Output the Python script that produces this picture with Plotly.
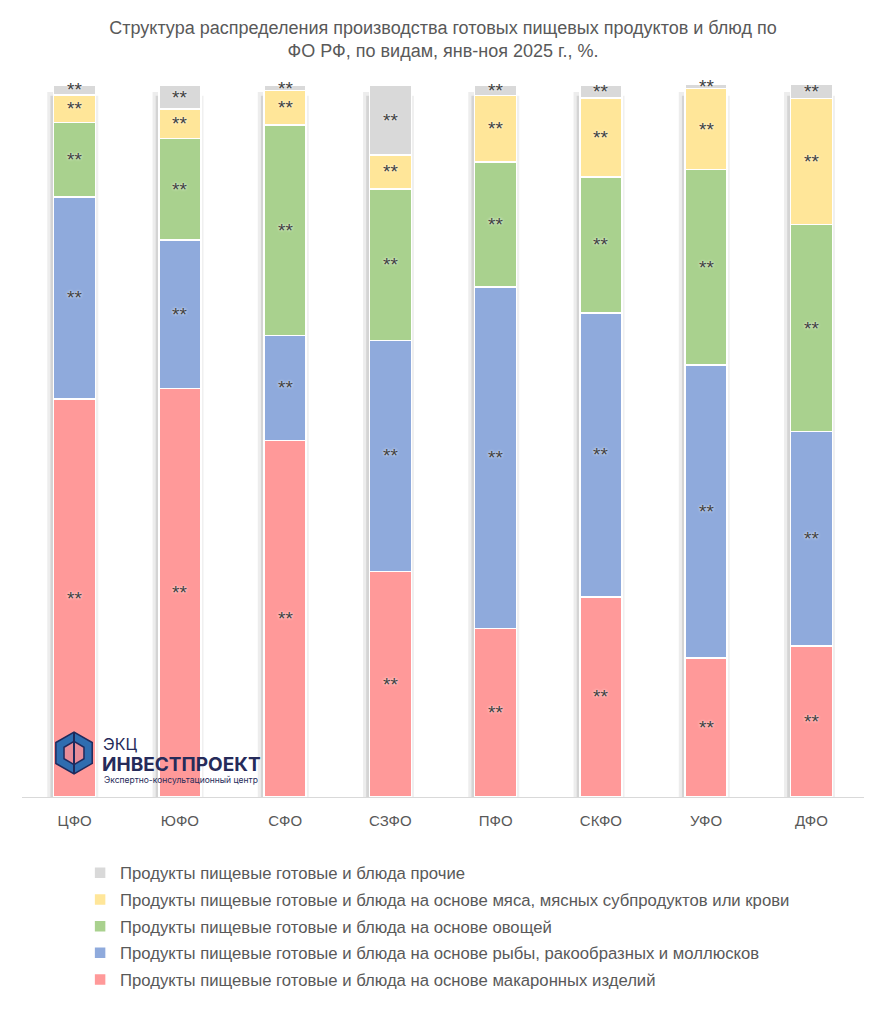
import math
import plotly.graph_objects as go

# Federal districts and shares (%) by product type
districts = ["ЦФО", "ЮФО", "СФО", "СЗФО", "ПФО", "СКФО", "УФО", "ДФО"]

pasta = [55.9, 57.4, 50.1, 31.7, 23.7, 28.1, 19.5, 21.2]
fish = [28.4, 20.8, 14.7, 32.4, 47.9, 39.9, 41.2, 30.1]
vegetables = [10.4, 14.3, 29.6, 21.3, 17.6, 19.1, 27.4, 29.1]
meat = [3.9, 4.1, 4.8, 4.8, 9.3, 11.1, 11.4, 17.7]
other = [1.4, 3.4, 0.7, 9.7, 1.5, 1.8, 0.6, 2.0]

series_names = [
    "Продукты пищевые готовые и блюда на основе макаронных изделий",
    "Продукты пищевые готовые и блюда на основе рыбы, ракообразных и моллюсков",
    "Продукты пищевые готовые и блюда на основе овощей",
    "Продукты пищевые готовые и блюда на основе мяса, мясных субпродуктов или крови",
    "Продукты пищевые готовые и блюда прочие",
]
series_values = [pasta, fish, vegetables, meat, other]
series_colors = ["#ff9999", "#8faadc", "#a9d18e", "#ffe699", "#d9d9d9"]
label_text = "**"  # values are hidden in the source chart

GREY_TEXT = "#595959"

# page body has an 8px margin, so the figure is 8px smaller than the window
W, H = 879, 1016
ML, MR, MT, MB = 14, 23, 77, 227
PW, PH = W - ML - MR, H - MT - MB

fig = go.Figure()
n = len(series_names)
for i, (name, vals, col) in enumerate(zip(series_names, series_values, series_colors)):
    fig.add_trace(go.Bar(
        x=districts, y=vals, name=name,
        legendgroup=f"g{n - i}", legendrank=n - i,
        marker=dict(color=col, line=dict(color="white", width=1.5)),
        hoverinfo="x+y+name",
    ))

# "**" labels in the middle of each segment
base = [0.0] * len(districts)
for vals in series_values:
    for j, v in enumerate(vals):
        fig.add_annotation(
            x=districts[j], y=base[j] + v / 2, xref="x", yref="y",
            text=label_text, showarrow=False, yanchor="middle",
            font=dict(color="#404040", size=19, family="Liberation Sans",
                      shadow="0px 0px 3px white"),
        )
        base[j] += v

fig.update_layout(
    barmode="stack",
    bargap=0.6,
    width=W, height=H,
    paper_bgcolor="white", plot_bgcolor="white",
    margin=dict(l=ML, r=MR, t=MT, b=MB),
    title=dict(
        text="Структура распределения производства готовых пищевых продуктов и блюд по<br>ФО РФ, по видам, янв-ноя 2025 г., %.",
        x=(443 - 8) / W, xanchor="center", y=1 - 26 / H, yanchor="top",
        font=dict(family="Liberation Sans", size=18, color=GREY_TEXT),
    ),
    legend=dict(
        traceorder="grouped",
        orientation="v",
        x=0.069, xanchor="left", y=-0.082, yanchor="top",
        font=dict(family="Liberation Sans", size=16.7, color=GREY_TEXT),
        itemwidth=30,
        tracegroupgap=2,
        bgcolor="rgba(0,0,0,0)",
    ),
    showlegend=True,
)
fig.update_xaxes(
    showline=True, linecolor="#d9d9d9", linewidth=1,
    tickfont=dict(family="Liberation Sans", size=15, color=GREY_TEXT),
    ticks="", showgrid=False, ticklabelstandoff=10,
)
fig.update_yaxes(range=[0, 100], visible=False, showgrid=False)

# soft shadow to the left of each column
half = (1 - 0.6) / 2
for i, _ in enumerate(districts):
    fig.add_shape(type="rect", xref="x", yref="y", layer="below",
                  x0=i - half - 0.06, x1=i - half, y0=0, y1=99,
                  fillcolor="rgba(0,0,0,0.07)", line=dict(width=0))
    fig.add_shape(type="rect", xref="x", yref="y", layer="below",
                  x0=i - half - 0.03, x1=i - half, y0=0, y1=98.5,
                  fillcolor="rgba(0,0,0,0.10)", line=dict(width=0))
    fig.add_shape(type="rect", xref="x", yref="y", layer="below",
                  x0=i + half, x1=i + half + 0.025, y0=0, y1=98.5,
                  fillcolor="rgba(0,0,0,0.06)", line=dict(width=0))


# logo: hexagon icon + text (window pixel -> paper coords)
def px_x(v):
    return (v - 8 - ML) / PW


def px_y(v):
    return (H - MB + 8 - v) / PH


cx, cy, r = 74, 753, 21
hex_pts = [(cx + r * math.cos(math.radians(a)), cy + r * math.sin(math.radians(a)))
           for a in (30, 90, 150, 210, 270, 330)]
path = "M " + " L ".join(f"{px_x(x):.4f},{px_y(y):.4f}" for x, y in hex_pts) + " Z"
fig.add_shape(type="path", xref="paper", yref="paper", path=path,
              fillcolor="#2f6db0", line=dict(color="#1f2a5c", width=1.5))
inner = [(cx + r * 0.55 * math.cos(math.radians(a)), cy + r * 0.55 * math.sin(math.radians(a)))
         for a in (30, 90, 150, 210, 270, 330)]
path2 = "M " + " L ".join(f"{px_x(x):.4f},{px_y(y):.4f}" for x, y in inner) + " Z"
fig.add_shape(type="path", xref="paper", yref="paper", path=path2,
              fillcolor="#e88d99", line=dict(color="#1f2a5c", width=1.5))
fig.add_shape(type="line", xref="paper", yref="paper",
              x0=px_x(cx), y0=px_y(cy - r), x1=px_x(cx), y1=px_y(cy + r),
              line=dict(color="#1f2a5c", width=2))

fig.add_annotation(text="ЭКЦ", xref="paper", yref="paper", x=px_x(101), y=px_y(744),
                   xanchor="left", yanchor="middle", showarrow=False,
                   font=dict(family="Inter", size=16, color="#262b5a"))
fig.add_annotation(text="<b>ИНВЕСТПРОЕКТ</b>", xref="paper", yref="paper", x=px_x(100), y=px_y(764),
                   xanchor="left", yanchor="middle", showarrow=False,
                   font=dict(family="Inter", size=19, color="#262b5a"))
fig.add_annotation(text="Экспертно-консультационный центр", xref="paper", yref="paper",
                   x=px_x(102), y=px_y(780), xanchor="left", yanchor="middle", showarrow=False,
                   font=dict(family="Inter", size=8.5, color="#262b5a"))

fig.write_html("out.html")
